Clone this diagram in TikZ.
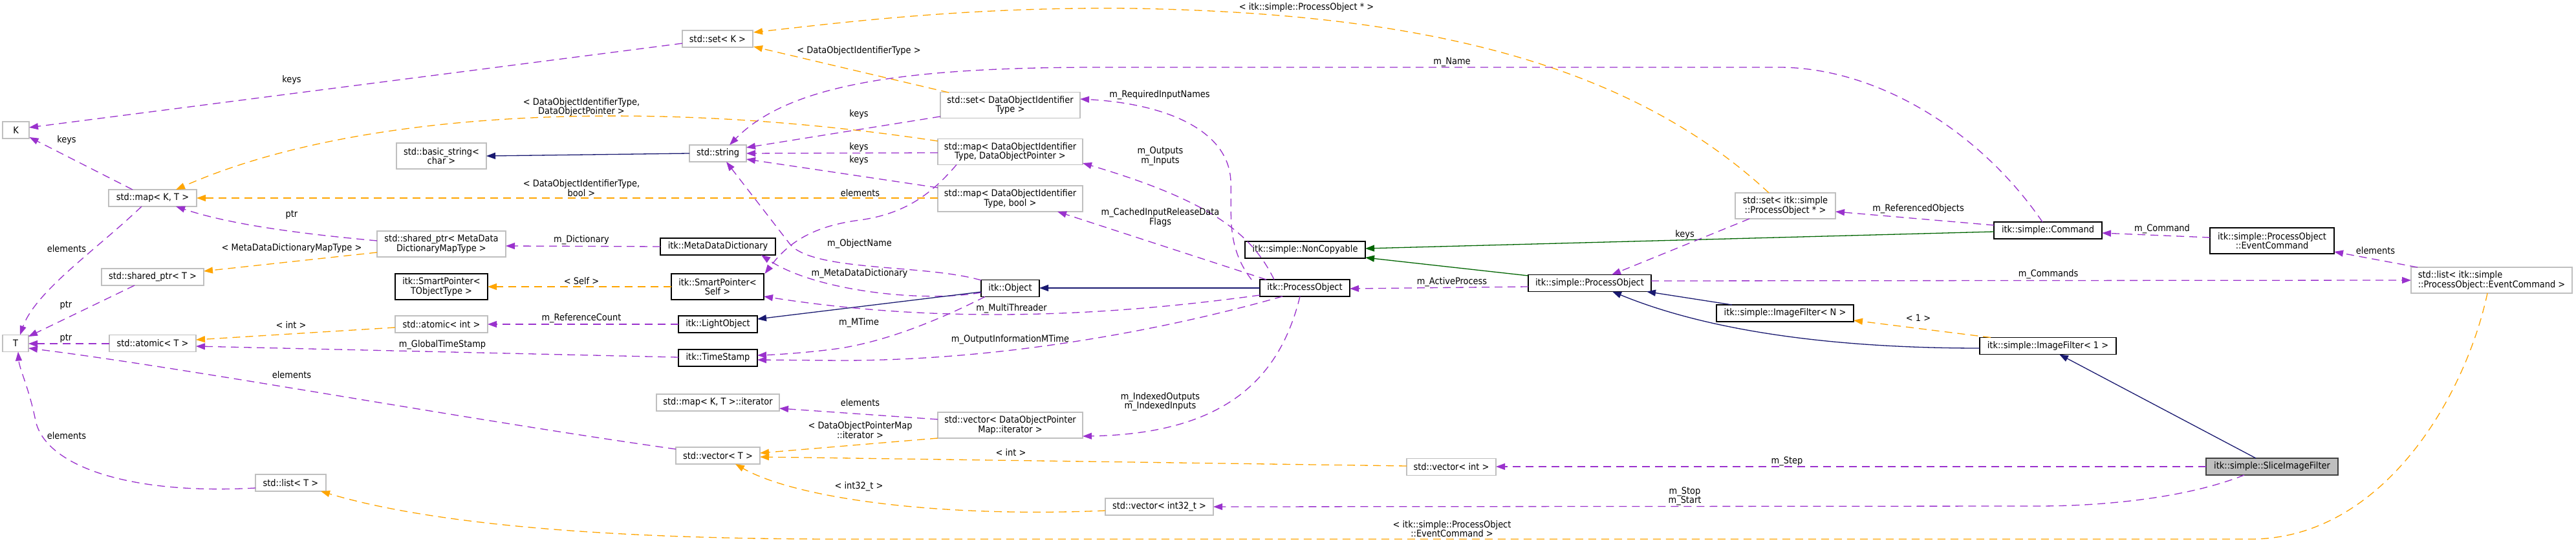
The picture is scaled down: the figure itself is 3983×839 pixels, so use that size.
\documentclass[tikz,border=0pt]{standalone}
\usepackage{fontspec}
\newfontfamily\dvs[FakeStretch=0.9]{DejaVu Sans}
\usetikzlibrary{arrows.meta,calc}
\definecolor{pur}{HTML}{9A32CD}
\definecolor{org}{HTML}{FFA500}
\definecolor{mblue}{HTML}{191970}
\definecolor{dgreen}{HTML}{006400}
\definecolor{gbord}{HTML}{BFBFBF}
\definecolor{sbord}{HTML}{404040}
\newcommand\nf{\dvs\fontsize{7.2pt}{7.2pt}\selectfont}
\tikzset{
  box/.style={inner sep=0pt, outer sep=0pt, align=center, font=\nf, line width=0.8pt, fill=white},
  gb/.style={box, draw=gbord},
  bb/.style={box, draw=black},
  lab/.style={inner sep=0pt, align=center, font=\nf},
  edgebase/.style={line width=0.65pt, -{Triangle[length=7pt,width=5pt]}},
  pe/.style={edgebase, draw=pur, dash pattern=on 6pt off 4pt},
  oe/.style={edgebase, draw=org, dash pattern=on 6pt off 4pt},
  be/.style={edgebase, draw=mblue},
  ge/.style={edgebase, draw=dgreen}
}
\begin{document}
\begin{tikzpicture}[x=0.5pt,y=-0.5pt]
\fill[white] (0,0) rectangle (3983,839);
\useasboundingbox (0,0) rectangle (3983,839);
% nodes
\node[gb, minimum width=20.5pt, minimum height=13pt] (K) at (24.5,201) {K};
\node[gb, minimum width=54.5pt, minimum height=13pt] (setK) at (1109.5,60) {std::set< K >};
\node[gb, minimum width=68pt, minimum height=13pt] (mapKT) at (236,306) {std::map< K, T >};
\node[gb, minimum width=69.5pt, minimum height=20pt] (bstr) at (682.5,241) {std::basic\_string<\\ char >};
\node[gb, minimum width=44pt, minimum height=13pt] (str) at (1110,237) {std::string};
\node[gb, minimum width=108pt, minimum height=20pt] (setDOIT) at (1562,162.5) {std::set< DataObjectIdentifier\\Type >};
\node[gb, minimum width=112pt, minimum height=20pt] (mapDOP) at (1562,234.5) {std::map< DataObjectIdentifier\\Type, DataObjectPointer >};
\node[gb, minimum width=112pt, minimum height=20pt] (mapBool) at (1562,307) {std::map< DataObjectIdentifier\\Type, bool >};
\node[gb, minimum width=99.5pt, minimum height=20pt] (spMDD) at (682.5,377) {std::shared\_ptr< MetaData\\DictionaryMapType >};
\node[bb, minimum width=89pt, minimum height=13pt] (mdd) at (1110,381) {itk::MetaDataDictionary};
\node[gb, minimum width=79pt, minimum height=13pt] (spT) at (236,428) {std::shared\_ptr< T >};
\node[bb, minimum width=71.5pt, minimum height=20pt] (spTO) at (682.5,443) {itk::SmartPointer<\\ TObjectType >};
\node[bb, minimum width=71.5pt, minimum height=20pt] (spSelf) at (1109.5,443) {itk::SmartPointer<\\ Self >};
\node[gb, minimum width=71.5pt, minimum height=13pt] (atomInt) at (682.5,501) {std::atomic< int >};
\node[bb, minimum width=61pt, minimum height=13pt] (light) at (1110,501) {itk::LightObject};
\node[bb, minimum width=61pt, minimum height=13pt] (ts) at (1110,553) {itk::TimeStamp};
\node[gb, minimum width=20pt, minimum height=13pt] (T) at (24,530.5) {T};
\node[gb, minimum width=67pt, minimum height=13pt] (atomT) at (236,530.5) {std::atomic< T >};
\node[bb, minimum width=45pt, minimum height=13pt] (obj) at (1562,445.5) {itk::Object};
\node[bb, minimum width=69.5pt, minimum height=13pt] (po) at (2017.5,445) {itk::ProcessObject};
\node[gb, minimum width=95pt, minimum height=13pt] (mapIt) at (1110,622) {std::map< K, T >::iterator};
\node[gb, minimum width=112pt, minimum height=20pt] (vecIt) at (1562,657) {std::vector< DataObjectPointer\\Map::iterator >};
\node[gb, minimum width=65pt, minimum height=13pt] (vecT) at (1110,704) {std::vector< T >};
\node[gb, minimum width=54.5pt, minimum height=13pt] (listT) at (449.5,746) {std::list< T >};
\node[gb, minimum width=83.5pt, minimum height=13pt] (vecI32) at (1792.5,783) {std::vector< int32\_t >};
\node[gb, minimum width=69pt, minimum height=13pt] (vecInt) at (2244,721.5) {std::vector< int >};
\node[bb, minimum width=93pt, minimum height=13pt] (nc) at (2018,386) {itk::simple::NonCopyable};
\node[bb, minimum width=95pt, minimum height=13pt] (spo) at (2458,437.5) {itk::simple::ProcessObject};
\node[gb, minimum width=77.5pt, minimum height=20pt] (setPO) at (2760.5,318) {std::set< itk::simple\\::ProcessObject * >};
\node[bb, minimum width=83.5pt, minimum height=13pt] (cmd) at (3166.5,356) {itk::simple::Command};
\node[bb, minimum width=106pt, minimum height=13pt] (ifN) at (2760,484) {itk::simple::ImageFilter< N >};
\node[bb, minimum width=105.5pt, minimum height=13pt] (if1) at (3166.5,534.5) {itk::simple::ImageFilter< 1 >};
\node[bb, minimum width=96pt, minimum height=20pt] (evc) at (3513,372) {itk::simple::ProcessObject\\::EventCommand};
\node[gb, minimum width=124.5pt, minimum height=20pt, align=left] (listEvc) at (3852.5,433) {std::list< itk::simple\\::ProcessObject::EventCommand >};
\node[box, draw=sbord, fill=gbord, minimum width=102pt, minimum height=13pt] (slice) at (3513,721) {itk::simple::SliceImageFilter};
% edges
\draw[pe] ($(setK)+(-54.5,7)$) -- ($(K)+(20.5,-4)$);
\draw[pe] ($(mapKT)+(-31,-13)$) -- ($(K)+(21,11)$);
\draw[oe] ($(setPO)+(-25.5,-20)$) .. controls (2500,80) and (2150,20) .. (1750,13) .. controls (1500,10) and (1300,35) .. ($(setK)+(55.5,-10)$);
\draw[oe] ($(setDOIT)+(-95,-19.5)$) -- ($(setK)+(55.5,12)$);
\draw[oe] ($(mapDOP)+(-112,-16.5)$) .. controls (1000,150) and (550,170) .. ($(mapKT)+(36,-13)$);
\draw[oe] ($(mapBool)+(-112,-1)$) -- ($(mapKT)+(68,0)$);
\draw[pe] ($(spMDD)+(-99.5,-5)$) .. controls (450,360) and (350,345) .. ($(mapKT)+(36,13)$);
\draw[pe] ($(mapKT)+(-17,13)$) .. controls (150,385) and (55,450) .. ($(T)+(7,-13)$);
\draw[oe] ($(spMDD)+(-99.5,13)$) -- ($(spT)+(79,-9)$);
\draw[pe] ($(spT)+(-28,13)$) -- ($(T)+(20,-10.5)$);
\draw[pe] ($(atomT)+(-67,0.5)$) -- ($(T)+(20,0.5)$);
\draw[pe] ($(vecT)+(-65,-10)$) .. controls (700,645) and (300,570) .. ($(T)+(20,7.5)$);
\draw[pe] ($(listT)+(-54.5,8)$) .. controls (200,765) and (70,720) .. (55,650) .. controls (45,600) and (30,570) .. ($(T)+(4,13)$);
\draw[oe] ($(atomInt)+(-71.5,5)$) -- ($(atomT)+(67,-5.5)$);
\draw[pe] ($(ts)+(-61,-1)$) -- ($(atomT)+(67,4.5)$);
\draw[be] ($(str)+(-44,0)$) -- ($(bstr)+(69.5,0)$);
\draw[pe] ($(setDOIT)+(-108,17.5)$) -- ($(str)+(44,-9)$);
\draw[pe] ($(mapDOP)+(-112,1.5)$) -- ($(str)+(44,0)$);
\draw[pe] ($(mapBool)+(-112,-17)$) -- ($(str)+(44,9)$);
\draw[pe] ($(cmd)+(-8.5,-13)$) .. controls (3060,200) and (2900,104) .. (2750,104) -- (1700,104) .. controls (1400,104) and (1220,130) .. ($(str)+(18,-13)$);
\draw[pe] ($(obj)+(-45,-12.5)$) .. controls (1430,408) and (1260,420) .. (1222,378) -- ($(str)+(13,13)$);
\draw[pe] ($(obj)+(-45,6.5)$) .. controls (1430,468) and (1260,450) .. ($(mdd)+(67,13)$);
\draw[oe] ($(spSelf)+(-71.5,0)$) -- ($(spTO)+(71.5,0)$);
\draw[pe] ($(light)+(-61,0)$) -- ($(atomInt)+(71.5,0)$);
\draw[be] ($(obj)+(-45,5.5)$) -- ($(light)+(61,-8)$);
\draw[pe] ($(obj)+(-39,13)$) .. controls (1460,490) and (1380,525) .. (1300,538) .. controls (1250,545) and (1200,548) .. ($(ts)+(61,-4)$);
\draw[pe] ($(po)+(-69.5,11)$) .. controls (1700,490) and (1450,500) .. ($(spSelf)+(71.5,15)$);
\draw[pe] ($(po)+(-34.5,13)$) .. controls (1800,510) and (1550,557) .. (1300,557) -- ($(ts)+(61,3)$);
\draw[be] ($(po)+(-69.5,0)$) -- ($(obj)+(45,-0.5)$);
\draw[pe] ($(po)+(-82.5,-13)$) .. controls (1895,380) and (1905,330) .. (1903,280) .. controls (1900,200) and (1800,160) .. ($(setDOIT)+(108,-9.5)$);
\draw[pe] ($(po)+(-47.5,-13)$) .. controls (1935,360) and (1870,310) .. ($(mapDOP)+(112,17.5)$);
\draw[pe] ($(po)+(-59.5,-13)$) -- ($(mapBool)+(73,20)$);
\draw[pe] ($(po)+(-7.5,13)$) .. controls (1980,580) and (1900,670) .. ($(vecIt)+(112,17)$);
\draw[pe] ($(vecIt)+(-112,-9)$) -- ($(mapIt)+(95,9)$);
\draw[oe] ($(vecIt)+(-112,20)$) -- ($(vecT)+(65,-4)$);
\draw[oe] ($(vecInt)+(-69,-1.5)$) -- ($(vecT)+(65,2)$);
\draw[oe] ($(vecI32)+(-83.5,6)$) .. controls (1450,800) and (1230,770) .. ($(vecT)+(27,13)$);
\draw[oe] ($(listEvc)+(-6.5,20)$) .. controls (3810,620) and (3680,833) .. (3480,833) -- (1300,833) .. controls (900,833) and (650,805) .. ($(listT)+(46.5,13)$);
\draw[pe] ($(slice)+(-102,0)$) -- ($(vecInt)+(69,-0.5)$);
\draw[pe] ($(slice)+(-43,13)$) .. controls (3380,770) and (3250,782) .. (3150,782) -- ($(vecI32)+(83.5,0)$);
\draw[be] ($(slice)+(-25,-13)$) -- ($(if1)+(17.5,13)$);
\draw[be] ($(if1)+(-105.5,3.5)$) .. controls (2850,538) and (2650,515) .. ($(spo)+(35,13)$);
\draw[be] ($(ifN)+(-82,-13)$) -- ($(spo)+(88,13)$);
\draw[oe] ($(if1)+(-88.5,-13)$) -- ($(ifN)+(106,11)$);
\draw[ge] ($(cmd)+(-83.5,2)$) -- ($(nc)+(93,-2)$);
\draw[ge] ($(spo)+(-95,-11.5)$) -- ($(nc)+(93,12)$);
\draw[pe] ($(setPO)+(-55.5,20)$) -- ($(spo)+(34,-13)$);
\draw[pe] ($(cmd)+(-83.5,-8)$) -- ($(setPO)+(77.5,9)$);
\draw[pe] ($(evc)+(-96,-5)$) -- ($(cmd)+(83.5,4)$);
\draw[pe] ($(listEvc)+(-114.5,-20)$) -- ($(evc)+(96,17)$);
\draw[pe] ($(spo)+(95,-3.5)$) -- ($(listEvc)+(-124.5,0)$);
\draw[pe] ($(spo)+(-95,5.5)$) -- ($(po)+(69.5,1)$);
\draw[pe] ($(mdd)+(-89,0)$) -- ($(spMDD)+(99.5,3)$);
\draw[pe] ($(mapDOP)+(-83,20)$) .. controls (1440,300) and (1400,330) .. (1330,340) .. controls (1250,350) and (1215,380) .. ($(spSelf)+(73,-20)$);
% labels
\node[lab] (l1) at (451,124) {keys};
\node[lab] (l2) at (103,217) {keys};
\node[lab] (l3) at (2020,12) {< itk::simple::ProcessObject * >};
\node[lab] (l4) at (1328,79) {< DataObjectIdentifierType >};
\node[lab] (l5) at (899,165.5) {< DataObjectIdentifierType,\\DataObjectPointer >};
\node[lab] (l6) at (899,290.5) {< DataObjectIdentifierType,\\bool >};
\node[lab] (l7) at (451,332) {ptr};
\node[lab] (l8) at (103,384) {elements};
\node[lab] (l9) at (451,384) {< MetaDataDictionaryMapType >};
\node[lab] (l10) at (102,472) {ptr};
\node[lab] (l11) at (102,523) {ptr};
\node[lab] (l12) at (451,579) {elements};
\node[lab] (l13) at (103,673) {elements};
\node[lab] (l14) at (450,502) {< int >};
\node[lab] (l15) at (684,533) {m\_GlobalTimeStamp};
\node[lab] (l17) at (1328,177) {keys};
\node[lab] (l18) at (1328,228) {keys};
\node[lab] (l19) at (1328,248) {keys};
\node[lab] (l20) at (2245,96) {m\_Name};
\node[lab] (l21) at (1329,377) {m\_ObjectName};
\node[lab] (l22) at (1329,423) {m\_MetaDataDictionary};
\node[lab] (l23) at (899,434) {< Self >};
\node[lab] (l24) at (899,492) {m\_ReferenceCount};
\node[lab] (l26) at (1328,499) {m\_MTime};
\node[lab] (l27) at (1564,477) {m\_MultiThreader};
\node[lab] (l28) at (1562,525) {m\_OutputInformationMTime};
\node[lab] (l30) at (1793,147) {m\_RequiredInputNames};
\node[lab] (l31) at (1794,241.5) {m\_Outputs\\m\_Inputs};
\node[lab] (l32) at (1794,336) {m\_CachedInputReleaseData\\Flags};
\node[lab] (l33) at (1794,620.5) {m\_IndexedOutputs\\m\_IndexedInputs};
\node[lab] (l34) at (1330,622) {elements};
\node[lab] (l35) at (1330,664.5) {< DataObjectPointerMap\\::iterator >};
\node[lab] (l36) at (1563,699) {< int >};
\node[lab] (l37) at (1328,752) {< int32\_t >};
\node[lab] (l38) at (2245,817) {< itk::simple::ProcessObject\\::EventCommand >};
\node[lab] (l39) at (2763,713) {m\_Step};
\node[lab] (l40) at (2605,767) {m\_Stop\\m\_Start};
\node[lab] (l44) at (2966,491) {< 1 >};
\node[lab] (l47) at (2605,363) {keys};
\node[lab] (l48) at (2966,323) {m\_ReferencedObjects};
\node[lab] (l49) at (3343,354) {m\_Command};
\node[lab] (l50) at (3673,387) {elements};
\node[lab] (l51) at (3167,424) {m\_Commands};
\node[lab] (l52) at (2245,436) {m\_ActiveProcess};
\node[lab] (l53) at (899,371) {m\_Dictionary};
\node[lab] (l54) at (1330,298) {elements};
\end{tikzpicture}
\end{document}
